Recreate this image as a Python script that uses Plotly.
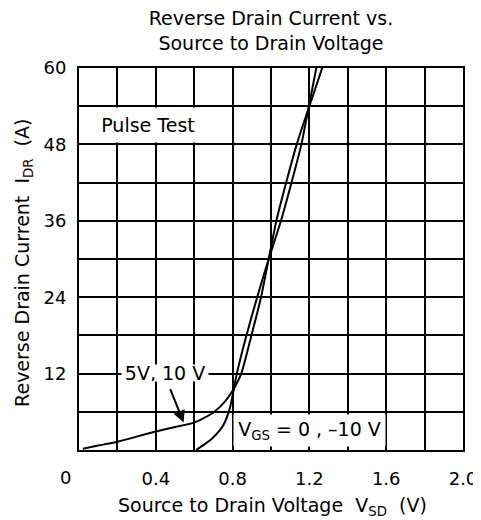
import plotly.graph_objects as go

# Curve: V_GS = 5 V, 10 V
v_5v = [0.02, 0.1, 0.2, 0.3, 0.4, 0.5, 0.6, 0.7, 0.76, 0.8, 0.845, 0.898, 0.948, 0.988, 1.028, 1.079, 1.134, 1.194, 1.266, 1.28]
i_5v = [0.2, 0.7, 1.3, 2.1, 2.9, 3.6, 4.3, 5.9, 7.6, 9.3, 12, 18, 24, 30, 36, 42, 48, 53.5, 60, 62]

# Curve: V_GS = 0, -10 V
v_0v = [0.61, 0.65, 0.7, 0.75, 0.785, 0.805, 0.822, 0.872, 0.928, 0.988, 1.052, 1.107, 1.158, 1.194, 1.236, 1.25]
i_0v = [0.0, 0.8, 2.0, 3.8, 6.5, 9.3, 12, 18, 24, 30, 36, 42, 48, 53.5, 60, 62]

x_ticks = [0.4, 0.8, 1.2, 1.6, 2.0]
x_tick_text = ["0.4", "0.8", "1.2", "1.6", "2.0"]
y_ticks = [12, 24, 36, 48, 60]
y_tick_text = ["12", "24", "36", "48", "60"]

FONT = "DejaVu Sans"

fig = go.Figure()
for vx, iy in [(v_5v, i_5v), (v_0v, i_0v)]:
    fig.add_trace(go.Scatter(x=vx, y=iy, mode="lines",
                             line=dict(color="black", width=2, shape="spline", smoothing=0.6),
                             showlegend=False, hoverinfo="skip"))

axis_common = dict(showline=True, mirror=True, linecolor="black", linewidth=2,
                   showgrid=True, gridcolor="black", gridwidth=2, zeroline=False,
                   automargin=False, ticklabeloverflow="allow",
                   ticks="", tickfont=dict(family=FONT, size=18, color="black"))

# page body adds an 8px margin
fig.update_layout(
    width=481, height=512,
    margin=dict(l=71, r=26, t=60, b=70),
    paper_bgcolor="white", plot_bgcolor="white",
    title=dict(text="Reverse Drain Current vs.<br>Source to Drain Voltage",
               x=0.5, xref="paper", xanchor="center",
               y=1 - 17 / 512, yref="container", yanchor="middle",
               automargin=False,
               font=dict(family=FONT, size=19, color="black")),
    xaxis=dict(range=[0, 2.0], tickvals=x_ticks, ticktext=x_tick_text,
               ticklabelstandoff=11,
               minor=dict(dtick=0.2, showgrid=True, gridcolor="black", gridwidth=2),
               **axis_common),
    yaxis=dict(range=[0, 60], tickvals=y_ticks, ticktext=y_tick_text,
               ticklabelstandoff=7,
               minor=dict(dtick=6, showgrid=True, gridcolor="black", gridwidth=2),
               **axis_common),
)

afont = dict(family=FONT, size=19, color="black")
NB = "\u00a0"
anns = [
    dict(text="0", x=0, y=0, xref="x", yref="y", xshift=-14, yshift=-27,
         showarrow=False, font=dict(family=FONT, size=18, color="black")),
    dict(text="Pulse Test", x=0.36, y=51.0, xref="x", yref="y", showarrow=False,
         width=134, height=34, borderpad=0, bgcolor="white", font=afont),
    dict(text="5V," + NB + "10" + NB + "V", x=0.448, y=12.1, xref="x", yref="y", showarrow=False,
         width=86, height=16, borderpad=0, bgcolor="white", font=afont),
    dict(text="", x=0.545, y=4.3, xref="x", yref="y", showarrow=True,
         ax=-14, ay=-35, arrowhead=2, arrowsize=1.2, arrowwidth=2, arrowcolor="black"),
    dict(text="V<sub>GS</sub>" + NB + "=" + NB + "0" + NB + "," + NB + "\u201310" + NB + "V",
         x=1.203, y=3.14, xref="x", yref="y", showarrow=False,
         width=151, height=31, borderpad=0, bgcolor="white", font=afont),
    dict(text="Source to Drain Voltage" + NB * 2 + "V<sub>SD</sub>" + NB * 2 + "(V)",
         x=0.505, y=-0.147, xref="paper", yref="paper", showarrow=False,
         yanchor="middle", font=afont),
    dict(text="Reverse Drain Current" + NB * 2 + "I<sub>DR</sub>" + NB * 2 + "(A)",
         x=-0.143, y=0.49, xref="paper", yref="paper", showarrow=False,
         textangle=-90, xanchor="center", yanchor="middle", font=afont),
]
fig.update_layout(annotations=anns)

fig.write_html("out.html")
